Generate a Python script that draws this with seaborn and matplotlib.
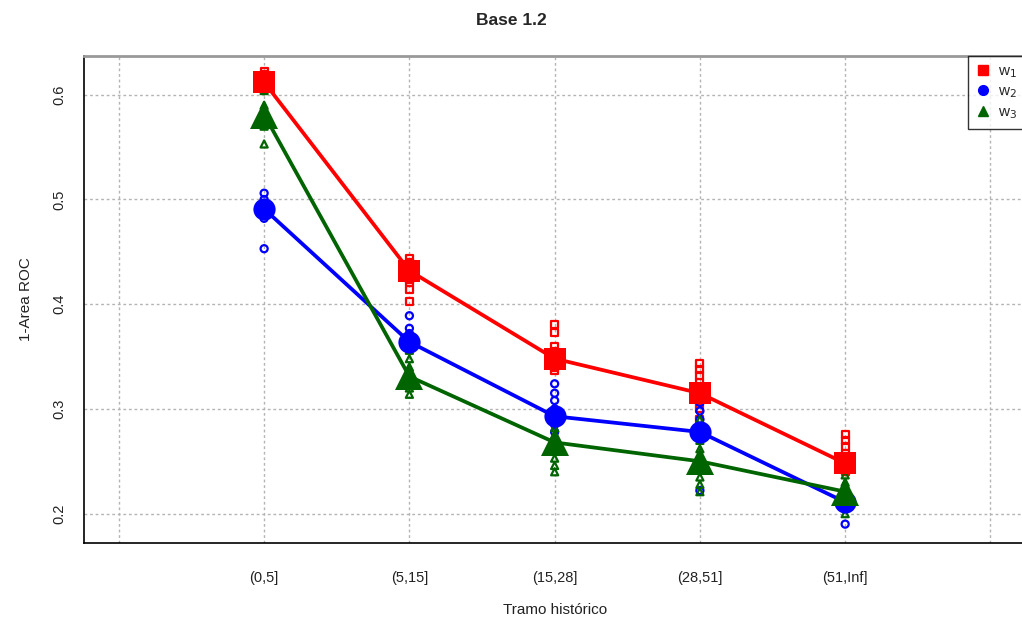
import pandas as pd
import matplotlib
matplotlib.use("Agg")
import matplotlib.pyplot as plt
import seaborn as sns

tramos = ["(0,5]", "(5,15]", "(15,28]", "(28,51]", "(51,Inf]"]

# means (big markers)
w1_mean = [0.612, 0.432, 0.348, 0.315, 0.248]
w2_mean = [0.491, 0.364, 0.293, 0.278, 0.211]
w3_mean = [0.581, 0.331, 0.268, 0.250, 0.221]

# individual runs (small hollow markers), one list per tramo
w1_pts = [
    [0.622, 0.619, 0.616, 0.613, 0.611, 0.609, 0.607],
    [0.444, 0.440, 0.436, 0.432, 0.428, 0.424, 0.421, 0.414, 0.403],
    [0.381, 0.373, 0.360, 0.355, 0.350, 0.345, 0.340, 0.337],
    [0.343, 0.338, 0.332, 0.325, 0.318, 0.312, 0.307, 0.300, 0.290],
    [0.276, 0.270, 0.264, 0.257, 0.250, 0.245, 0.240],
]
w2_pts = [
    [0.506, 0.500, 0.495, 0.490, 0.486, 0.482, 0.453],
    [0.389, 0.377, 0.372, 0.367, 0.362, 0.358],
    [0.324, 0.315, 0.308, 0.300, 0.293, 0.285, 0.278, 0.270, 0.264],
    [0.316, 0.306, 0.298, 0.290, 0.283, 0.278, 0.273, 0.222],
    [0.223, 0.218, 0.213, 0.208, 0.190],
]
w3_pts = [
    [0.604, 0.590, 0.585, 0.580, 0.575, 0.570, 0.553],
    [0.356, 0.348, 0.340, 0.333, 0.327, 0.320, 0.314],
    [0.298, 0.290, 0.282, 0.275, 0.268, 0.260, 0.253, 0.246, 0.240],
    [0.290, 0.280, 0.270, 0.262, 0.255, 0.248, 0.235, 0.228, 0.221],
    [0.244, 0.237, 0.230, 0.222, 0.215, 0.208, 0.200],
]

series = [
    ("w$_1$", w1_mean, w1_pts, "#ff0000", "s", 16),
    ("w$_2$", w2_mean, w2_pts, "#0000ff", "o", 16),
    ("w$_3$", w3_mean, w3_pts, "#006400", "^", 20),
]

sns.set_style("white")
plt.rcParams["font.family"] = ["Liberation Sans", "DejaVu Sans"]

fig = plt.figure(figsize=(10.22, 6.27), dpi=100)
ax = fig.add_axes([0.0822, 0.134, 0.921, 0.7767])

pos = {t: i + 1 for i, t in enumerate(tramos)}

# individual points
for name, mean, pts, col, mk, ms in series:
    rows = [(pos[t], v) for t, vals in zip(tramos, pts) for v in vals]
    d = pd.DataFrame(rows, columns=["x", "y"])
    sns.scatterplot(data=d, x="x", y="y", ax=ax, marker=mk, s=26,
                    facecolor="none", edgecolor=col, linewidth=1.6, zorder=3)

# mean lines
handles = []
for name, mean, pts, col, mk, ms in series:
    d = pd.DataFrame({"x": [pos[t] for t in tramos], "y": mean})
    sns.lineplot(data=d, x="x", y="y", ax=ax, color=col, linewidth=2.7,
                 marker=mk, markersize=ms, markeredgewidth=0, zorder=4)
    handles.append(plt.Line2D([], [], color=col, marker=mk, linestyle="none",
                              markersize=7, label=name))

ax.set_xlim(-0.24, 6.24)
ax.set_ylim(0.172, 0.637)
ax.set_xticks(range(1, 6))
ax.set_xticklabels(tramos)
ax.set_xticks([0, 6], minor=True)
ax.set_yticks([0.2, 0.3, 0.4, 0.5, 0.6])
ax.set_yticklabels(["0.2", "0.3", "0.4", "0.5", "0.6"], rotation=90, va="center")
ax.tick_params(axis="both", which="major", direction="out", length=7, width=1,
               color="black", labelsize=10.5, labelcolor="#222222")
ax.tick_params(axis="x", which="major", pad=13)
ax.tick_params(axis="y", which="major", pad=6)
ax.tick_params(axis="x", which="minor", length=0)

grid_kw = dict(color="#b4b4b4", linestyle=(0, (2, 2)), linewidth=1)
ax.grid(True, which="both", axis="x", **grid_kw)
ax.grid(True, which="major", axis="y", **grid_kw)
ax.set_axisbelow(True)

for side in ["left", "bottom"]:
    ax.spines[side].set_color("black")
    ax.spines[side].set_linewidth(1.2)
ax.spines["top"].set_color("#999999")
ax.spines["top"].set_linewidth(2)
ax.spines["right"].set_visible(False)

ax.set_xlabel("Tramo histórico", fontsize=11, labelpad=13, color="#222222")
ax.set_ylabel("1-Area ROC", fontsize=11, labelpad=14, color="#222222")
fig.suptitle("Base 1.2", fontsize=12.5, fontweight="bold", y=0.98)

leg = ax.legend(handles=handles, loc="upper right", bbox_to_anchor=(1.0, 1.0),
                borderaxespad=0, frameon=True, fancybox=False, fontsize=11,
                handlelength=0.8, handletextpad=0.6, labelspacing=0.3,
                borderpad=0.55)
leg.get_frame().set_edgecolor("black")
leg.get_frame().set_linewidth(1)
leg.set_zorder(10)

fig.savefig("out.png", dpi=100)
